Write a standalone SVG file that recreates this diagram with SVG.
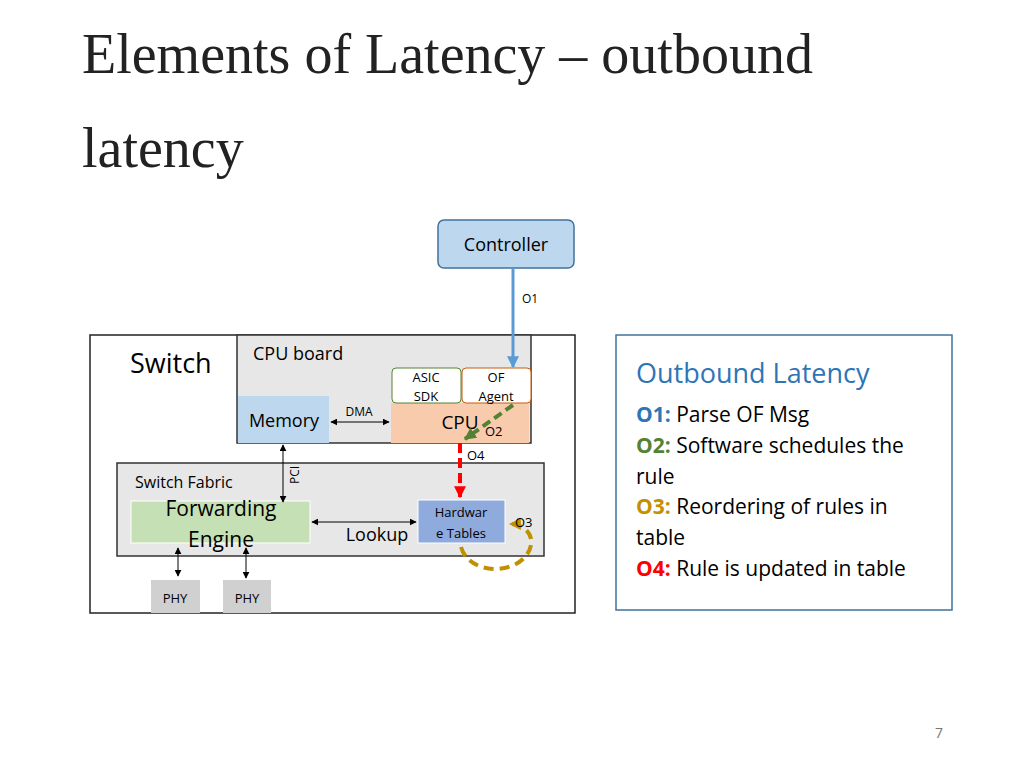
<svg xmlns="http://www.w3.org/2000/svg" width="1024" height="768" viewBox="0 0 1024 768">
<defs>
<style>
.s{font-family:"Open Sans","Liberation Sans",sans-serif}
.t{font-family:"Liberation Serif",serif;font-size:56px;fill:#222}
.ln{stroke:#000;stroke-width:1;fill:none}
</style>
<marker id="a" viewBox="0 0 10 10" refX="9" refY="5" markerWidth="7" markerHeight="7" orient="auto-start-reverse"><path d="M0,0L10,5L0,10z" fill="#000"/></marker>
<marker id="ab" viewBox="0 0 10 10" refX="9" refY="5" markerWidth="4" markerHeight="4" orient="auto"><path d="M0,0L10,5L0,10z" fill="#5b9bd5"/></marker>
<marker id="ag" viewBox="0 0 10 10" refX="9" refY="5" markerWidth="3" markerHeight="3" orient="auto"><path d="M0,0L10,5L0,10z" fill="#548235"/></marker>
<marker id="ar" viewBox="0 0 10 10" refX="9" refY="5" markerWidth="3" markerHeight="3" orient="auto"><path d="M0,0L10,5L0,10z" fill="#ff0000"/></marker>
<marker id="ay" viewBox="0 0 10 10" refX="9" refY="5" markerWidth="3" markerHeight="3" orient="auto"><path d="M0,0L10,5L0,10z" fill="#bf9000"/></marker>
</defs>
<rect width="1024" height="768" fill="#fff"/>
<text class="t" x="82" y="73">Elements of Latency – outbound</text>
<text class="t" x="82" y="167">latency</text>

<g id="controller"><rect x="438" y="220" width="136" height="48" rx="6" fill="#bdd7ee" stroke="#41719c" stroke-width="1.5"/><text class="s" x="506" y="251" font-size="18" text-anchor="middle">Controller</text></g>
<g id="switch"><rect x="90" y="335" width="485" height="278" fill="#fff" stroke="#222" stroke-width="1.5"/><text class="s" x="130" y="373" font-size="27">Switch</text></g>
<g id="cpuboard"><rect x="237" y="335" width="294" height="108" fill="#e7e7e7" stroke="#333" stroke-width="1.5"/><text class="s" x="253" y="360" font-size="18">CPU board</text></g>
<g id="memory"><rect x="238" y="396" width="91" height="47" fill="#bdd7ee"/><text class="s" x="284" y="427" font-size="18" text-anchor="middle">Memory</text></g>
<g id="cpu"><rect x="391" y="403" width="138" height="40" fill="#f8cbad"/><text class="s" x="460" y="429" font-size="19" text-anchor="middle">CPU</text></g>
<g id="asic"><rect x="392" y="368" width="69" height="35" rx="4" fill="#fff" stroke="#548235"/><text class="s" x="426" y="382" font-size="13" text-anchor="middle">ASIC</text><text class="s" x="426" y="401" font-size="13" text-anchor="middle">SDK</text></g>
<g id="ofagent"><rect x="462" y="368" width="69" height="35" rx="4" fill="#fff" stroke="#c55a11"/><text class="s" x="496" y="382" font-size="13" text-anchor="middle">OF</text><text class="s" x="496" y="401" font-size="13" text-anchor="middle">Agent</text></g>
<g id="fabric"><rect x="117" y="463" width="427" height="93" fill="#e7e7e7" stroke="#333" stroke-width="1.5"/><text class="s" x="135" y="488" font-size="16">Switch Fabric</text></g>
<g id="fwd"><rect x="131" y="501" width="179" height="42" fill="#c5e0b4" stroke="#fff"/><text class="s" x="221" y="516" font-size="21" text-anchor="middle">Forwarding</text><text class="s" x="221" y="547" font-size="21" text-anchor="middle">Engine</text></g>
<g id="hwtables"><rect x="418" y="500" width="87" height="43" fill="#8faadc" stroke="#fff"/><text class="s" x="461" y="517" font-size="13" text-anchor="middle">Hardwar</text><text class="s" x="461" y="538" font-size="13" text-anchor="middle">e Tables</text></g>
<g id="phy1"><rect x="151" y="580" width="49" height="33" fill="#d0d0d0"/><text class="s" x="175" y="603" font-size="13" text-anchor="middle">PHY</text></g>
<g id="phy2"><rect x="223" y="580" width="48" height="33" fill="#d0d0d0"/><text class="s" x="247" y="603" font-size="13" text-anchor="middle">PHY</text></g>

<g id="connectors">
<line class="ln" x1="331" y1="422" x2="389" y2="422" marker-start="url(#a)" marker-end="url(#a)"/>
<text class="s" x="359" y="416" font-size="12" text-anchor="middle">DMA</text>
<line class="ln" x1="283" y1="445" x2="283" y2="502" marker-start="url(#a)" marker-end="url(#a)"/>
<text class="s" font-size="12" transform="translate(299,484) rotate(-90)">PCI</text>
<line class="ln" x1="312" y1="522" x2="416" y2="522" marker-start="url(#a)" marker-end="url(#a)"/>
<text class="s" x="377" y="541" font-size="18" text-anchor="middle">Lookup</text>
<line class="ln" x1="178" y1="548" x2="178" y2="576" marker-start="url(#a)" marker-end="url(#a)"/>
<line class="ln" x1="246" y1="548" x2="246" y2="578" marker-start="url(#a)" marker-end="url(#a)"/>
<line x1="513" y1="268" x2="513" y2="367" stroke="#5b9bd5" stroke-width="3" marker-end="url(#ab)"/>
<text class="s" x="522" y="303" font-size="12">O1</text>
<line x1="513" y1="405" x2="465" y2="439" stroke="#548235" stroke-width="4" stroke-dasharray="9,5" marker-end="url(#ag)"/>
<text class="s" x="485" y="436" font-size="13">O2</text>
<line x1="460" y1="443" x2="460" y2="497" stroke="#ff0000" stroke-width="4" stroke-dasharray="10,5" marker-end="url(#ar)"/>
<text class="s" x="467" y="460" font-size="13">O4</text>
<path d="M461,547 C470,578 525,575 531,545 C533,532 522,524 510,524" fill="none" stroke="#bf9000" stroke-width="4" stroke-dasharray="10,6" marker-end="url(#ay)"/>
<text class="s" x="515" y="527" font-size="13">O3</text>
</g>

<g id="legend"><rect x="616" y="335" width="336" height="275" fill="#fff" stroke="#41719c" stroke-width="1.5"/>
<text class="s" x="636" y="383" font-size="27" fill="#2e75b6">Outbound Latency</text>
<text class="s" x="636" y="422" font-size="21"><tspan fill="#2e75b6" font-weight="bold">O1:</tspan> Parse OF Msg</text>
<text class="s" x="636" y="453" font-size="21"><tspan fill="#548235" font-weight="bold">O2:</tspan> Software schedules the</text>
<text class="s" x="636" y="484" font-size="21">rule</text>
<text class="s" x="636" y="514" font-size="21"><tspan fill="#c59000" font-weight="bold">O3:</tspan> Reordering of rules in</text>
<text class="s" x="636" y="545" font-size="21">table</text>
<text class="s" x="636" y="576" font-size="21"><tspan fill="#ff0000" font-weight="bold">O4:</tspan> Rule is updated in table</text>
</g>
<text class="s" x="939" y="738" font-size="14" fill="#777" text-anchor="middle">7</text>
</svg>
